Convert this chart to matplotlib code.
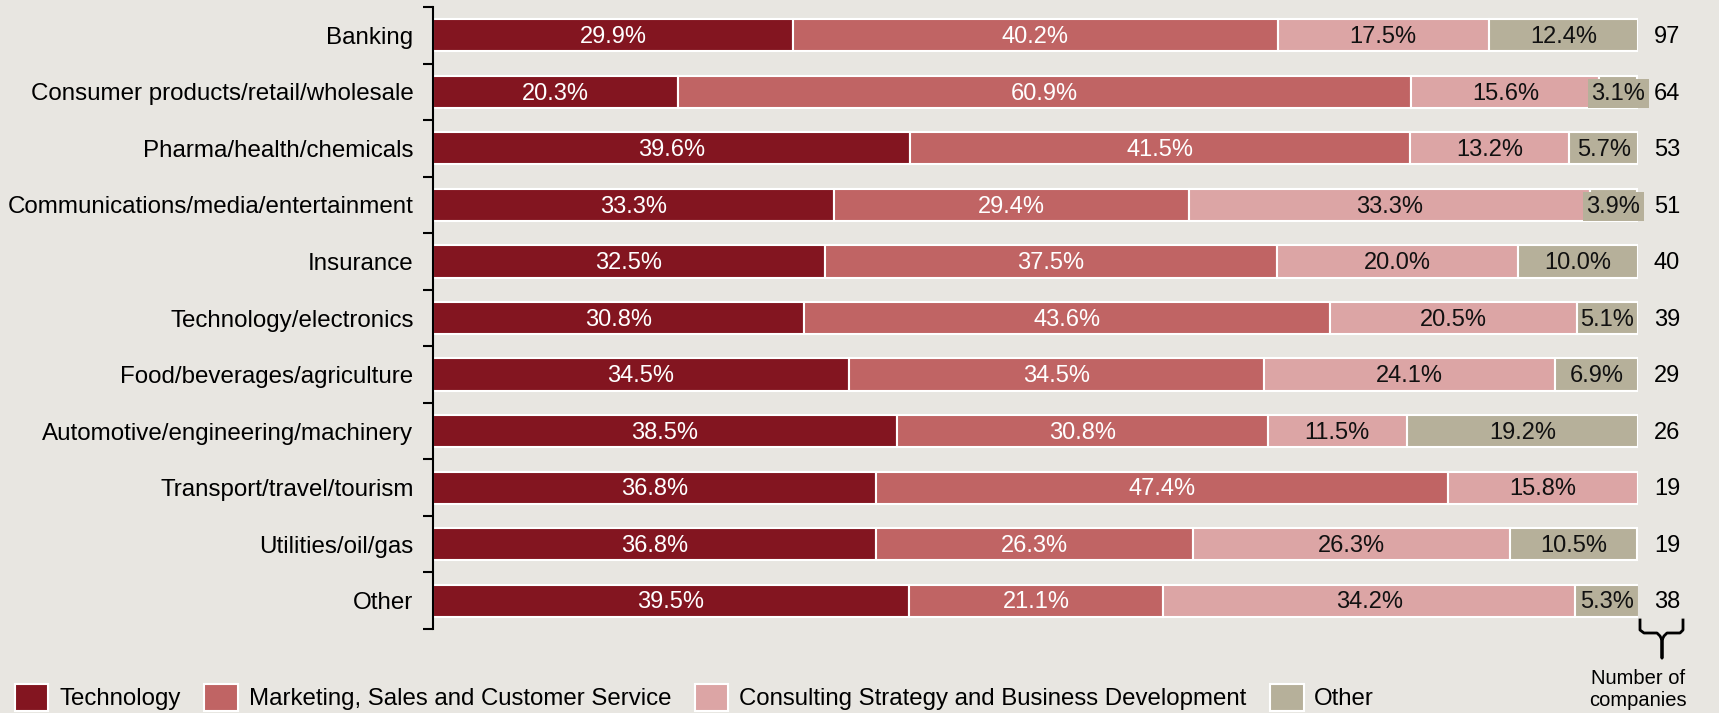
import matplotlib.pyplot as plt
import numpy as np
from matplotlib.patches import Patch

plt.rcParams['font.family'] = ['Liberation Sans', 'DejaVu Sans']

industries = ['Banking', 'Consumer products/retail/wholesale', 'Pharma/health/chemicals',
              'Communications/media/entertainment', 'Insurance', 'Technology/electronics',
              'Food/beverages/agriculture', 'Automotive/engineering/machinery',
              'Transport/travel/tourism', 'Utilities/oil/gas', 'Other']
technology = [29.9, 20.3, 39.6, 33.3, 32.5, 30.8, 34.5, 38.5, 36.8, 36.8, 39.5]
marketing = [40.2, 60.9, 41.5, 29.4, 37.5, 43.6, 34.5, 30.8, 47.4, 26.3, 21.1]
consulting = [17.5, 15.6, 13.2, 33.3, 20.0, 20.5, 24.1, 11.5, 15.8, 26.3, 34.2]
other = [12.4, 3.1, 5.7, 3.9, 10.0, 5.1, 6.9, 19.2, 0.0, 10.5, 5.3]
n_companies = [97, 64, 53, 51, 40, 39, 29, 26, 19, 19, 38]

series_names = ['Technology', 'Marketing, Sales and Customer Service',
                'Consulting Strategy and Business Development', 'Other']
colors = ['#831520', '#c06464', '#dca5a5', '#b6b09a']
text_colors = ['white', 'white', '#111111', '#111111']
bg = '#e8e6e1'

fig = plt.figure(figsize=(17.19, 7.13), dpi=100, facecolor=bg)
ax = fig.add_axes([433/1719, 1-629/713, 1205/1719, 622/713])
ax.set_facecolor(bg)

y = np.arange(len(industries))
left = np.zeros(len(industries))
for vals, c, tc in zip([technology, marketing, consulting, other], colors, text_colors):
    vals = np.array(vals)
    ax.barh(y, vals, left=left, height=0.57, color=c, edgecolor='white', linewidth=1.5)
    for yi, l, v in zip(y, left, vals):
        if v <= 0:
            continue
        kw = {}
        if c == colors[3] and v < 5:
            kw['bbox'] = dict(boxstyle='square,pad=0.15', fc=c, ec='none')
        ax.text(l + v/2, yi + 0.03, f'{v:.1f}%', ha='center', va='center', color=tc,
                fontsize=17, **kw)
    left += vals

for yi, n in zip(y, n_companies):
    ax.text(102.4, yi + 0.03, str(n), ha='center', va='center', fontsize=17, clip_on=False)

ax.set_xlim(0, 100)
ax.set_ylim(len(industries) - 0.5, -0.5)
ax.set_yticks(y)
ax.set_yticklabels(industries, fontsize=17.4)
ax.set_yticks(np.arange(-0.5, len(industries)), minor=True)
ax.tick_params(axis='y', which='major', length=0, pad=14)
ax.tick_params(axis='y', which='minor', length=7, width=1.5)
ax.set_xticks([])
for s in ['top', 'right', 'bottom']:
    ax.spines[s].set_visible(False)
ax.spines['left'].set_linewidth(1.5)

# brace under the counts
bx = [1640, 1640, 1644, 1657, 1660, 1662, 1662, 1662, 1664, 1667, 1680, 1683, 1683]
by = [620, 630, 633, 633, 636, 640, 658, 640, 636, 633, 633, 630, 620]
fig.lines.append(plt.Line2D([b/1719 for b in bx], [1-v/713 for v in by],
                            transform=fig.transFigure, color='black', lw=2))
fig.text(1638/1719, 1-689/713, 'Number of\ncompanies', ha='center', va='center',
         fontsize=14.5, linespacing=1.2)

handles = [Patch(facecolor=c, edgecolor='white', linewidth=1.5) for c in colors]
fig.legend(handles, series_names, loc='lower left', bbox_to_anchor=(-0.004, -0.028),
           ncol=4, frameon=False, fontsize=17.3, handlelength=1.4, handleheight=1.4,
           handletextpad=0.45, columnspacing=0.98)

fig.savefig('out.png', dpi=100, facecolor=bg)
